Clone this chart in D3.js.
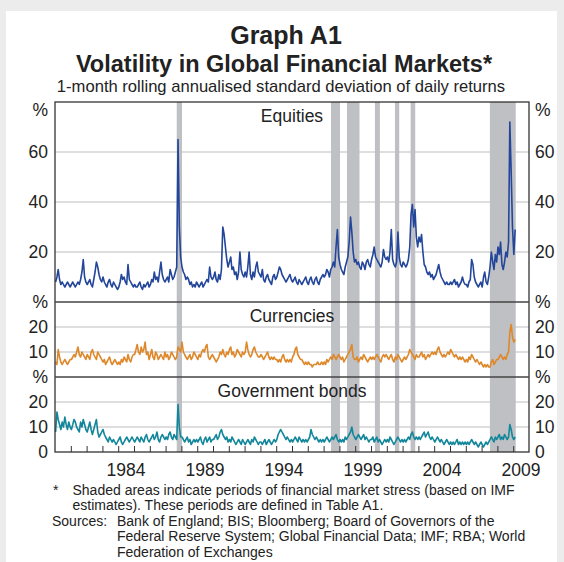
<!DOCTYPE html>
<html>
<head>
<meta charset="utf-8">
<script src="https://cdn.jsdelivr.net/npm/d3@7"></script>
<style>
  body { margin: 0; background: #ececec; }
  svg { display: block; font-family: "Liberation Sans", Arial, sans-serif; }
</style>
</head>
<body>
<div id="chart"></div>
<script>
// Monthly readings, Jan 1980 - Feb 2009 (per cent)
const startYear = 1980;

const equities = [
  8,10,13,9,7,8,7,6,7,8,7,6,
  7,8,7,6,7,8,7,9,12,17,10,8,
  7,8,9,7,6,9,12,16,14,11,9,8,
  10,8,7,6,8,9,7,6,8,7,6,5,
  6,8,11,9,10,8,7,15,9,8,7,6,
  7,6,6,7,8,6,5,7,6,7,8,6,
  7,9,8,12,9,10,8,12,16,11,9,8,
  9,10,8,13,11,9,10,12,14,65,30,18,
  14,12,11,9,10,9,7,8,6,7,6,8,
  7,6,7,8,6,7,8,9,8,14,10,9,
  10,12,9,8,11,9,13,30,27,22,17,14,
  16,18,13,14,11,12,9,12,20,13,11,10,
  12,10,14,20,11,9,12,10,14,16,12,11,
  10,13,9,8,10,11,9,8,7,10,11,9,
  10,12,14,13,11,10,9,8,9,10,11,9,
  8,9,10,8,7,9,8,7,8,9,10,8,
  7,9,10,8,7,9,10,8,7,9,10,11,
  10,11,13,12,10,13,14,16,14,22,29,18,
  15,13,12,11,14,16,18,24,34,28,20,16,
  17,15,16,14,13,16,15,13,16,17,15,14,
  17,19,22,18,17,16,15,14,16,21,18,17,
  18,16,20,29,17,15,14,16,28,18,15,14,
  16,15,14,15,17,22,35,39,30,37,26,22,
  26,24,27,20,15,14,12,11,12,10,11,9,
  10,11,13,15,12,10,9,8,7,8,7,7,
  8,7,8,9,7,8,6,7,8,10,8,7,
  7,6,8,9,17,15,10,8,7,6,7,8,
  6,10,12,8,7,10,14,20,16,13,19,16,
  22,19,24,15,13,16,20,18,24,72,52,30,
  19,29
];

const currencies = [
  6,5,11,8,6,5,6,7,6,5,6,7,
  7,8,9,8,10,12,9,8,10,9,8,7,
  9,8,7,10,11,9,8,7,10,9,8,7,
  6,7,5,6,7,8,6,5,6,7,6,5,
  6,5,7,6,8,7,6,9,7,6,8,9,
  9,11,13,10,9,12,10,11,14,9,10,7,
  9,11,8,7,10,9,7,8,9,8,7,10,
  8,9,7,8,10,9,8,7,8,12,11,10,
  14,10,9,8,7,8,9,7,8,10,9,8,
  7,9,8,10,11,10,12,13,8,7,8,9,
  8,7,6,7,8,10,9,11,9,8,10,9,
  11,12,9,10,8,9,11,10,9,8,10,9,
  10,14,11,9,8,9,11,12,10,9,8,8,
  9,8,7,8,9,10,8,7,8,7,8,7,
  7,6,7,6,8,9,7,6,7,6,7,6,
  8,9,11,12,9,8,7,7,6,5,6,5,
  6,5,5,4,5,5,5,6,5,5,6,5,
  6,5,7,6,7,8,7,9,8,7,8,9,
  8,7,8,6,7,8,9,10,11,13,8,7,
  7,8,6,7,8,7,9,8,7,6,7,8,
  7,8,7,8,9,8,7,6,8,9,8,9,
  8,7,8,9,7,6,8,7,9,8,7,6,
  7,8,7,8,9,11,10,9,8,7,9,8,
  8,9,10,8,9,7,8,9,8,9,10,9,
  10,9,11,12,10,9,8,9,8,9,10,9,
  11,10,9,8,9,8,7,8,7,8,7,6,
  7,6,8,7,9,8,7,6,7,6,5,6,
  5,4,5,4,5,4,4,6,7,5,6,7,
  7,8,9,8,7,8,7,9,10,18,21,16,
  14,15
];

const bonds = [
  8,16,13,11,9,12,10,14,11,9,12,10,
  9,11,13,12,10,9,8,12,10,13,11,9,
  8,10,12,9,7,9,11,13,8,6,7,8,
  9,7,6,5,4,6,5,4,5,4,3,4,
  5,6,4,3,4,5,6,5,4,5,6,5,
  4,5,6,5,4,6,5,4,6,7,5,4,
  5,6,7,5,6,8,5,4,6,7,6,5,
  6,5,7,8,6,5,7,6,5,19,10,6,
  6,5,4,5,6,4,5,3,4,5,4,5,
  4,5,6,4,3,5,6,4,5,6,4,5,
  5,6,7,5,6,8,9,7,6,5,6,4,
  5,4,6,5,4,3,4,5,4,3,5,4,
  3,4,5,4,3,5,4,6,5,4,3,4,
  4,3,4,5,3,4,5,4,3,4,5,4,
  5,7,8,9,8,7,6,5,6,5,4,5,
  4,5,6,5,4,6,5,4,5,4,5,4,
  5,6,9,7,6,5,6,5,4,5,4,5,
  4,5,6,5,4,5,6,5,6,7,5,4,
  5,4,5,4,6,5,6,7,8,10,7,6,
  5,6,7,6,5,6,7,5,6,5,4,5,
  5,6,4,5,6,4,5,4,3,4,5,4,
  5,4,6,5,4,3,4,5,6,5,4,5,
  4,5,4,5,6,5,7,8,6,5,6,5,
  6,5,6,7,8,6,7,8,6,5,6,5,
  4,5,6,5,4,5,4,3,4,5,4,3,
  4,3,4,3,4,5,3,4,3,4,3,4,
  3,4,3,4,5,4,3,4,3,2,3,4,
  3,2,3,4,3,4,5,6,5,4,6,5,
  6,7,5,6,5,7,6,5,6,11,9,6,
  5,6
];

// Periods of market stress (shaded)
const stressPeriods = [
  ["1987-09-15", "1988-01-15"],
  ["1997-06-20", "1998-01-15"],
  ["1998-06-25", "1999-04-10"],
  ["2000-04-01", "2000-07-25"],
  ["2001-07-08", "2001-10-15"],
  ["2002-07-05", "2002-10-20"],
  ["2007-07-12", "2009-02-28"]
];

const panelNames = ["Equities", "Currencies", "Government bonds"];
const panelMax = [80, 30, 30];
const panelTicks = [[20, 40, 60], [10, 20], [0, 10, 20]];
const yearLabels = [1984, 1989, 1994, 1999, 2004, 2009];

const W = 564, H = 562;
const left = 55, right = 529;
const panelTops = [102, 302, 377, 452];
const colors = ["#23469a", "#de882b", "#12879b"];

const svg = d3.select("#chart").append("svg")
  .attr("width", W).attr("height", H);

svg.append("rect")
  .attr("x", 6).attr("y", 11).attr("width", 551).attr("height", H - 11)
  .attr("fill", "#fff");

const x = d3.scaleTime()
  .domain([new Date(1980, 0, 1), new Date(2010, 0, 1)])
  .range([left, right]);

const monthDate = i => new Date(startYear, i, 15);

// titles
svg.append("text").attr("x", 286).attr("y", 44).attr("text-anchor", "middle")
  .attr("font-size", 25).attr("font-weight", "bold").attr("fill", "#222")
  .text("Graph A1");
svg.append("text").attr("x", 284).attr("y", 72).attr("text-anchor", "middle")
  .attr("font-size", 23.5).attr("font-weight", "bold").attr("fill", "#222")
  .text("Volatility in Global Financial Markets*");
svg.append("text").attr("x", 281).attr("y", 92).attr("text-anchor", "middle")
  .attr("font-size", 16.6).attr("fill", "#222")
  .text("1-month rolling annualised standard deviation of daily returns");

const series = [equities, currencies, bonds];
const scales = series.map((s, k) => d3.scaleLinear()
  .domain([0, panelMax[k]])
  .range([panelTops[k + 1], panelTops[k]]));

// gridlines
series.forEach((s, k) => {
  svg.append("g").selectAll("line")
    .data(panelTicks[k].filter(t => t > 0))
    .join("line")
    .attr("x1", left).attr("x2", right)
    .attr("y1", d => scales[k](d)).attr("y2", d => scales[k](d))
    .attr("stroke", "#bdbdbd").attr("stroke-width", 1);
});

// shaded stress periods
svg.append("g").selectAll("rect")
  .data(stressPeriods)
  .join("rect")
  .attr("x", d => x(new Date(d[0])))
  .attr("width", d => x(new Date(d[1])) - x(new Date(d[0])))
  .attr("y", panelTops[0])
  .attr("height", panelTops[3] - panelTops[0])
  .attr("fill", "#bfc0c4");

// lines
series.forEach((s, k) => {
  const line = d3.line()
    .x((d, i) => x(monthDate(i)))
    .y(d => scales[k](d));
  svg.append("path")
    .datum(s)
    .attr("d", line)
    .attr("fill", "none")
    .attr("stroke", colors[k])
    .attr("stroke-width", 1.6)
    .attr("stroke-linejoin", "round");
});

// frame and dividers
svg.append("rect")
  .attr("x", left).attr("y", panelTops[0])
  .attr("width", right - left).attr("height", panelTops[3] - panelTops[0])
  .attr("fill", "none").attr("stroke", "#333").attr("stroke-width", 1.3);
svg.append("g").selectAll("line")
  .data([panelTops[1], panelTops[2]])
  .join("line")
  .attr("x1", left).attr("x2", right)
  .attr("y1", d => d).attr("y2", d => d)
  .attr("stroke", "#444").attr("stroke-width", 1.5);

// y axes, both sides
series.forEach((s, k) => {
  const ticks = panelTicks[k];
  const gl = svg.append("g").attr("transform", `translate(${left},0)`)
    .call(d3.axisLeft(scales[k]).tickValues(ticks).tickSize(0).tickPadding(7));
  const gr = svg.append("g").attr("transform", `translate(${right},0)`)
    .call(d3.axisRight(scales[k]).tickValues(ticks).tickSize(0).tickPadding(6));
  [gl, gr].forEach(g => {
    g.select(".domain").remove();
    g.selectAll("text").attr("font-size", 17.5).attr("fill", "#222")
      .attr("font-family", "Liberation Sans, Arial, sans-serif");
  });
  // % unit labels
  const yPct = k === 0 ? panelTops[0] + 8 : panelTops[k];
  svg.append("text").attr("x", left - 7).attr("y", yPct).attr("dy", "0.35em")
    .attr("text-anchor", "end").attr("font-size", 17.5).attr("fill", "#222").text("%");
  svg.append("text").attr("x", right + 6).attr("y", yPct).attr("dy", "0.35em")
    .attr("font-size", 17.5).attr("fill", "#222").text("%");
  // panel title
  svg.append("text").attr("x", (left + right) / 2).attr("y", panelTops[k] + 20)
    .attr("text-anchor", "middle").attr("font-size", 17.5).attr("fill", "#222")
    .text(panelNames[k]);
});

// x axis: year ticks inside, labels at mid-year
const xg = svg.append("g").attr("transform", `translate(0,${panelTops[3]})`)
  .call(d3.axisBottom(x)
    .tickValues(d3.timeYear.range(new Date(1981, 0, 1), new Date(2010, 0, 1)))
    .tickSize(-6).tickFormat(""));
xg.select(".domain").remove();
xg.selectAll("line").attr("stroke", "#333");

svg.append("g").selectAll("text")
  .data(yearLabels)
  .join("text")
  .attr("x", d => x(new Date(d, 6, 1)))
  .attr("y", 476)
  .attr("text-anchor", "middle")
  .attr("font-size", 17.5).attr("fill", "#222")
  .text(d => d);

// footnotes
const notes = [
  {x: 53, y: 494.5, t: "*"},
  {x: 72.5, y: 494.5, t: "Shaded areas indicate periods of financial market stress (based on IMF"},
  {x: 72.5, y: 510, t: "estimates). These periods are defined in Table A1."},
  {x: 52, y: 525.5, t: "Sources:"},
  {x: 117, y: 525.5, t: "Bank of England; BIS; Bloomberg; Board of Governors of the"},
  {x: 117, y: 541, t: "Federal Reserve System; Global Financial Data; IMF; RBA; World"},
  {x: 117, y: 556.5, t: "Federation of Exchanges"}
];
svg.append("g").selectAll("text")
  .data(notes)
  .join("text")
  .attr("x", d => d.x).attr("y", d => d.y)
  .attr("font-size", 14).attr("fill", "#222")
  .text(d => d.t);
</script>
</body>
</html>
